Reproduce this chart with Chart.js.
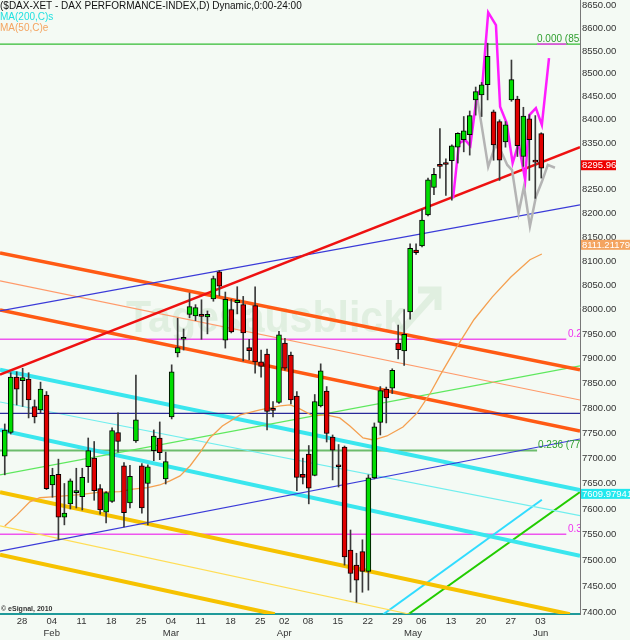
<!DOCTYPE html>
<html>
<head>
<meta charset="utf-8">
<script src="https://cdn.jsdelivr.net/npm/chart.js@4.4.0/dist/chart.umd.min.js"></script>
<style>
  html, body { margin: 0; padding: 0; background: #f4faf4; }
  canvas { display: block; }
</style>
</head>
<body>
<canvas id="dax" width="630" height="640"></canvas>
<script>
// trading-day index: 0 = Mon 28 Jan 2013, first candle is index -2
const firstDay = -2;

const opens = [
  7704, 7751, 7862, 7855, 7858, 7803, 7796, 7826, 7647, 7668,
  7584, 7610, 7632, 7624, 7683, 7700, 7640, 7594, 7615, 7751,
  7685, 7612, 7734, 7685, 7650, 7715, 7740, 7659, 7782, 7911,
  7939, 7990, 7987, 7990, 7985, 8022, 8078, 7937, 8000, 8014,
  8010, 7922, 8008, 7893, 7909, 7797, 7811, 7931, 7907, 7824,
  7668, 7708, 7666, 7804, 7834, 7742, 7685, 7722, 7520, 7491,
  7517, 7479, 7661, 7771, 7838, 7840, 7931, 7915, 7995, 8123,
  8132, 8197, 8255, 8302, 8306, 8312, 8341, 8357, 8368, 8443,
  8454, 8476, 8417, 8396, 8352, 8443, 8445, 8321, 8402, 8313,
  8370,
];
const highs = [
  7768, 7871, 7873, 7880, 7871, 7816, 7852, 7833, 7680, 7698,
  7650, 7659, 7680, 7680, 7740, 7733, 7648, 7634, 7760, 7790,
  7691, 7686, 7866, 7689, 7687, 7756, 7772, 7712, 7887, 7982,
  7960, 8034, 8010, 8020, 7997, 8069, 8081, 8036, 8021, 8047,
  8027, 7939, 8047, 7917, 7919, 7813, 7955, 7941, 7913, 7833,
  7700, 7725, 7827, 7889, 7843, 7746, 7727, 7724, 7559, 7514,
  7540, 7667, 7770, 7843, 7842, 7879, 7968, 8000, 8136, 8136,
  8209, 8275, 8296, 8381, 8316, 8346, 8372, 8407, 8419, 8471,
  8481, 8567, 8421, 8400, 8396, 8530, 8451, 8427, 8411, 8409,
  8372,
];
const lows = [
  7667, 7748, 7806, 7803, 7780, 7770, 7790, 7638, 7623, 7540,
  7569, 7600, 7602, 7598, 7652, 7617, 7590, 7573, 7613, 7712,
  7565, 7602, 7731, 7592, 7569, 7695, 7697, 7649, 7778, 7903,
  7917, 7983, 7977, 7939, 7950, 8017, 8028, 7921, 7952, 7991,
  7895, 7897, 7870, 7862, 7756, 7782, 7809, 7876, 7808, 7636,
  7649, 7610, 7665, 7802, 7732, 7657, 7643, 7491, 7439, 7420,
  7439, 7443, 7659, 7746, 7770, 7829, 7899, 7886, 7980, 8114,
  8130, 8195, 8240, 8275, 8238, 8228, 8307, 8331, 8324, 8410,
  8407, 8443, 8313, 8270, 8341, 8440, 8321, 8300, 8270, 8232,
  8275,
];
const closes = [
  7756, 7862, 7838, 7861, 7816, 7782, 7838, 7640, 7666, 7584,
  7592, 7655, 7636, 7662, 7715, 7636, 7598, 7632, 7755, 7733,
  7593, 7664, 7776, 7602, 7683, 7744, 7711, 7693, 7873, 7922,
  7943, 8006, 8004, 7986, 7990, 8064, 8048, 8021, 7954, 8019,
  7952, 7916, 7893, 7884, 7793, 7795, 7948, 7880, 7816, 7662,
  7662, 7641, 7813, 7875, 7749, 7716, 7683, 7507, 7475, 7462,
  7479, 7661, 7762, 7835, 7820, 7876, 7918, 7949, 8127, 8118,
  8186, 8271, 8283, 8300, 8304, 8344, 8371, 8376, 8409, 8461,
  8476, 8538, 8346, 8313, 8389, 8487, 8344, 8408, 8357, 8309,
  8296,
];

// MA(50) trace
const maIdx = [-2.0, 0, 2.2, 3.9, 6.4, 10.6, 14.0, 17.3, 19.5, 22.0, 24.0, 25.7, 27.4, 29.1, 30.8, 32.4, 34.5, 37.5, 40.8,
  44.2, 45.9, 47.5, 49.7, 51.9, 54.2, 55.9, 58.1, 59.8, 62.1, 64.8, 67.2, 69.4, 71.0, 73.5, 76.7, 79.8, 82.9, 86.1, 88.1];
const maVal = [7567, 7588, 7614, 7622, 7624, 7628, 7633, 7634, 7639, 7642, 7647, 7655, 7665, 7685, 7712, 7740, 7764, 7786, 7796,
  7804, 7806, 7798, 7784, 7786, 7780, 7764, 7740, 7736, 7744, 7762, 7790, 7830, 7865, 7917, 7979, 8026, 8067, 8103, 8115];

// projections
const projIdx = [73.2, 74.2, 75.2, 76.1, 77.2, 78.1, 79.1, 80.4, 81.1, 82.2, 83.2, 84.2, 85.3, 86.0, 87.1, 88.1, 89.3];
const projVal = [8232, 8349, 8357, 8344, 8452, 8473, 8635, 8607, 8428, 8393, 8307, 8349, 8271, 8410, 8425, 8389, 8534];
const mirrorIdx = [77.2, 79.1, 80.3, 81.3, 82.3, 83.1, 84.2, 85.1, 86.1, 87.1, 88.1, 89.1, 90.3];
const mirrorVal = [8452, 8299, 8345, 8331, 8303, 8292, 8201, 8257, 8173, 8235, 8267, 8303, 8297];

// trendlines [index, price]
const orangeUpper = [[-2.8, 8117], [94.5, 7877]];
const salmonThin = [[-2.8, 8059], [94.5, 7816]];
const orangeLower = [[-2.8, 7999], [94.5, 7754]];
const blueUpper = [[-2.8, 7997], [94.5, 8218]];
const blueLower = [[-2.8, 7518], [94.5, 7738]];
const redTrend = [[-2.8, 7867], [94.5, 8341]];
const greenThin = [[-2.8, 7667], [94.5, 7885]];
const cyanUpper = [[-2.8, 7877], [94.5, 7637]];
const cyanLower = [[-2.8, 7756], [94.5, 7509]];
const cyanThin = [[-2.8, 7812], [94.5, 7587]];
const goldUpper = [[-2.8, 7633], [92.8, 7397]];
const goldThin = [[-2.8, 7567], [66.0, 7397]];
const goldLower = [[-2.8, 7511], [43.3, 7397]];
const cyanRise = [[61.5, 7397], [88.1, 7618]];
const greenRise = [[65.7, 7397], [94.5, 7633]];

// horizontal levels
const fibTop = 8565;
const fib20 = 7939;
const fib236 = 7715;
const fib30 = 7551;
const blueLevel = 7789;

const lastClose = 8295.96;
const lastMa50 = 8111.21179;
const lastMa200 = 7609.97941;

const weekTicks = [0, 5, 10, 15, 20, 25, 30, 35, 40, 44, 48, 53, 58, 63, 67, 72, 77, 82, 87];
const weekLabels = ['28', '04', '11', '18', '25', '04', '11', '18', '25', '02', '08', '15', '22', '29', '06', '13', '20', '27', '03'];
const monthTicks = [5, 25, 44, 65.6, 87];
const monthLabels = ['Feb', 'Mar', 'Apr', 'May', 'Jun'];
const yTicks = [7400, 7450, 7500, 7550, 7600, 7650, 7700, 7750, 7800, 7850, 7900, 7950, 8000,
  8050, 8100, 8150, 8200, 8250, 8300, 8350, 8400, 8450, 8500, 8550, 8600, 8650];

const xMin = -2.8, xMax = 94.5;
const yMin = 7397.5, yMax = 8662.7;
const labelShift = 0.88;
const FONT = 'Liberation Sans';

const days = opens.map((_, k) => firstDay + k);

function pts(arr) {
  return arr.map((p) => ({ x: p[0], y: p[1] }));
}
function zipPts(xs, ys) {
  return xs.map((x, k) => ({ x: x, y: ys[k] }));
}
function seg(data, color, width, order) {
  return {
    type: 'line',
    data: data,
    borderColor: color,
    borderWidth: width,
    pointRadius: 0,
    fill: false,
    tension: 0,
    clip: 0,
    order: order,
  };
}

// x tick list with labels
const xTickMap = new Map();
weekTicks.forEach((d, k) => {
  const m = monthTicks.indexOf(d);
  xTickMap.set(d + labelShift, m >= 0 ? [weekLabels[k], monthLabels[m]] : weekLabels[k]);
});
monthTicks.forEach((d, k) => {
  if (weekTicks.indexOf(d) < 0) xTickMap.set(d + labelShift, ['', monthLabels[k]]);
});

const bodyColors = days.map((_, k) => (closes[k] >= opens[k] ? '#00dd00' : '#e00000'));

const datasets = [
  {
    type: 'bar',
    data: days.map((d, k) => ({ x: d, y: [Math.min(opens[k], closes[k]), Math.max(opens[k], closes[k])] })),
    backgroundColor: bodyColors,
    borderColor: '#000',
    borderWidth: 1,
    borderSkipped: false,
    barThickness: 5,
    minBarLength: 2,
    grouped: false,
    order: 0,
  },
  {
    type: 'bar',
    data: days.map((d, k) => ({ x: d, y: [lows[k], highs[k]] })),
    backgroundColor: '#3a3a3a',
    barThickness: 1,
    grouped: false,
    order: 1,
  },
  seg(zipPts(projIdx, projVal), '#ff1cff', 2.5, 2),
  seg(zipPts(mirrorIdx, mirrorVal), '#b4b4b4', 2.5, 3),
  seg(zipPts(maIdx, maVal), '#f5a050', 1.3, 4),
  seg(pts(redTrend), '#ee1111', 2.5, 5),
  seg(pts(blueUpper), '#3a3ad8', 1.2, 6),
  seg(pts(blueLower), '#3a3ad8', 1.2, 6),
  seg(pts([[xMin, blueLevel], [xMax, blueLevel]]), '#2a2a9a', 1.2, 6),
  seg(pts(orangeUpper), '#ff5a14', 3.5, 7),
  seg(pts(orangeLower), '#ff5a14', 3.5, 7),
  seg(pts(salmonThin), '#ff9a6a', 1.2, 7),
  seg(pts(greenThin), '#5ee85e', 1.2, 8),
  seg(pts(cyanUpper), '#3ae6ee', 4, 9),
  seg(pts(cyanLower), '#3ae6ee', 4, 9),
  seg(pts(cyanThin), '#70eeee', 1.2, 9),
  seg(pts(goldUpper), '#f6c200', 4, 10),
  seg(pts(goldLower), '#f6c200', 4, 10),
  seg(pts(goldThin), '#ffdd55', 1.2, 10),
  seg(pts(cyanRise), '#30dcff', 2, 11),
  seg(pts(greenRise), '#22cc00', 2, 11),
  seg(pts([[87.3, fibTop], [92.2, fibTop]]), '#ee44ee', 1.5, 12),
  seg(pts([[xMin, fibTop], [xMax, fibTop]]), '#33bb33', 1.2, 13),
  seg(pts([[xMin, fib20], [92.2, fib20]]), '#ee55ee', 1.5, 13),
  seg(pts([[xMin, fib30], [92.2, fib30]]), '#ee55ee', 1.5, 13),
  seg(pts([[xMin, fib236], [87.3, fib236]]), '#6cbc6c', 2, 13),
];

const backdrop = {
  id: 'backdrop',
  beforeDraw(c) {
    const ctx = c.ctx;
    ctx.save();
    ctx.fillStyle = '#f4faf4';
    ctx.fillRect(0, 0, c.width, c.height);
    ctx.restore();
  },
  beforeDatasetsDraw(c) {
    const ctx = c.ctx;
    ctx.save();
    ctx.font = 'bold 44px "' + FONT + '"';
    ctx.fillStyle = 'rgba(196, 222, 196, 0.4)';
    ctx.textBaseline = 'alphabetic';
    ctx.fillText('Tagesausblick', 126, 332, 280);
    ctx.strokeStyle = 'rgba(196, 222, 196, 0.4)';
    ctx.lineWidth = 7;
    ctx.beginPath();
    ctx.moveTo(402, 330);
    ctx.lineTo(436, 292);
    ctx.moveTo(418, 290);
    ctx.lineTo(438, 290);
    ctx.lineTo(438, 310);
    ctx.stroke();
    ctx.restore();
  },
};

const overlay = {
  id: 'overlay',
  afterDatasetsDraw(c) {
    const ctx = c.ctx;
    const area = c.chartArea;
    const ys = c.scales.y;
    ctx.save();
    ctx.textBaseline = 'middle';
    ctx.font = '10px "' + FONT + '"';
    ctx.fillStyle = '#111';
    ctx.fillText('($DAX-XET - DAX PERFORMANCE-INDEX,D) Dynamic,0:00-24:00', 0, 6);
    ctx.fillStyle = '#22e0e0';
    ctx.fillText('MA(200,C)s', 0, 17);
    ctx.fillStyle = '#f4a460';
    ctx.fillText('MA(50,C)e', 0, 28);

    ctx.font = 'bold 7px "' + FONT + '"';
    ctx.fillStyle = '#333';
    ctx.fillText('\u00a9 eSignal, 2010', 1, 609);

    ctx.beginPath();
    ctx.rect(area.left, area.top, area.right - area.left, area.bottom - area.top);
    ctx.clip();
    ctx.font = '10px "' + FONT + '"';
    ctx.fillStyle = '#ee33ee';
    ctx.fillText('0.236', area.right - 12, ys.getPixelForValue(fib20) - 5);
    ctx.fillText('0.382', area.right - 12, ys.getPixelForValue(fib30) - 5);
    ctx.fillStyle = '#2f9f2f';
    ctx.fillText('0.236 (7714.82)', area.right - 42, ys.getPixelForValue(fib236) - 5);
    ctx.fillText('0.000 (8557.86)', area.right - 43, ys.getPixelForValue(fibTop) - 5);
    ctx.restore();
  },
  afterDraw(c) {
    const ctx = c.ctx;
    const ys = c.scales.y;
    const x0 = c.chartArea.right;
    const tags = [
      { v: lastClose, text: lastClose.toFixed(2), bg: '#ee0000', w: 35, dy: -3 },
      { v: lastMa50, text: String(lastMa50), bg: '#f4a460', w: 50, dy: -11 },
      { v: lastMa200, text: String(lastMa200), bg: '#22e8ee', w: 50, dy: -10 },
    ];
    ctx.save();
    ctx.font = '9.5px "' + FONT + '"';
    ctx.textBaseline = 'middle';
    tags.forEach((t) => {
      const y = ys.getPixelForValue(t.v) + t.dy;
      ctx.fillStyle = t.bg;
      ctx.fillRect(x0 + 1, y - 5, t.w, 10);
      ctx.fillStyle = '#fff';
      ctx.fillText(t.text, x0 + 2, y + 0.5);
    });
    ctx.restore();
  },
};

new Chart(document.getElementById('dax'), {
  type: 'bar',
  data: { datasets: datasets },
  options: {
    responsive: false,
    animation: false,
    events: [],
    layout: { padding: 0 },
    plugins: { legend: { display: false }, tooltip: { enabled: false } },
    scales: {
      x: {
        type: 'linear',
        min: xMin,
        max: xMax,
        offset: false,
        grid: { display: false, drawTicks: false, offset: false },
        border: { display: true, color: '#1f9a9a', width: 2 },
        afterBuildTicks: (s) => {
          s.ticks = Array.from(xTickMap.keys()).map((v) => ({ value: v }));
        },
        afterFit: (s) => {
          s.height = 26;
          s.paddingLeft = 0;
          s.paddingRight = 0;
        },
        ticks: {
          autoSkip: false,
          maxRotation: 0,
          padding: 2,
          color: '#333',
          font: { family: FONT, size: 9.5 },
          callback: (v) => xTickMap.get(v),
        },
      },
      y: {
        type: 'logarithmic',
        position: 'right',
        min: yMin,
        max: yMax,
        grid: { display: false, drawTicks: false },
        border: { display: true, color: '#777', width: 1 },
        afterBuildTicks: (s) => {
          s.ticks = yTicks.map((v) => ({ value: v }));
        },
        afterFit: (s) => {
          s.width = 50;
          s.paddingTop = 0;
          s.paddingBottom = 0;
        },
        ticks: {
          autoSkip: false,
          padding: 2,
          color: '#333',
          font: { family: FONT, size: 9.5 },
          callback: (v) => Number(v).toFixed(2),
        },
      },
    },
  },
  plugins: [backdrop, overlay],
});
</script>
</body>
</html>
